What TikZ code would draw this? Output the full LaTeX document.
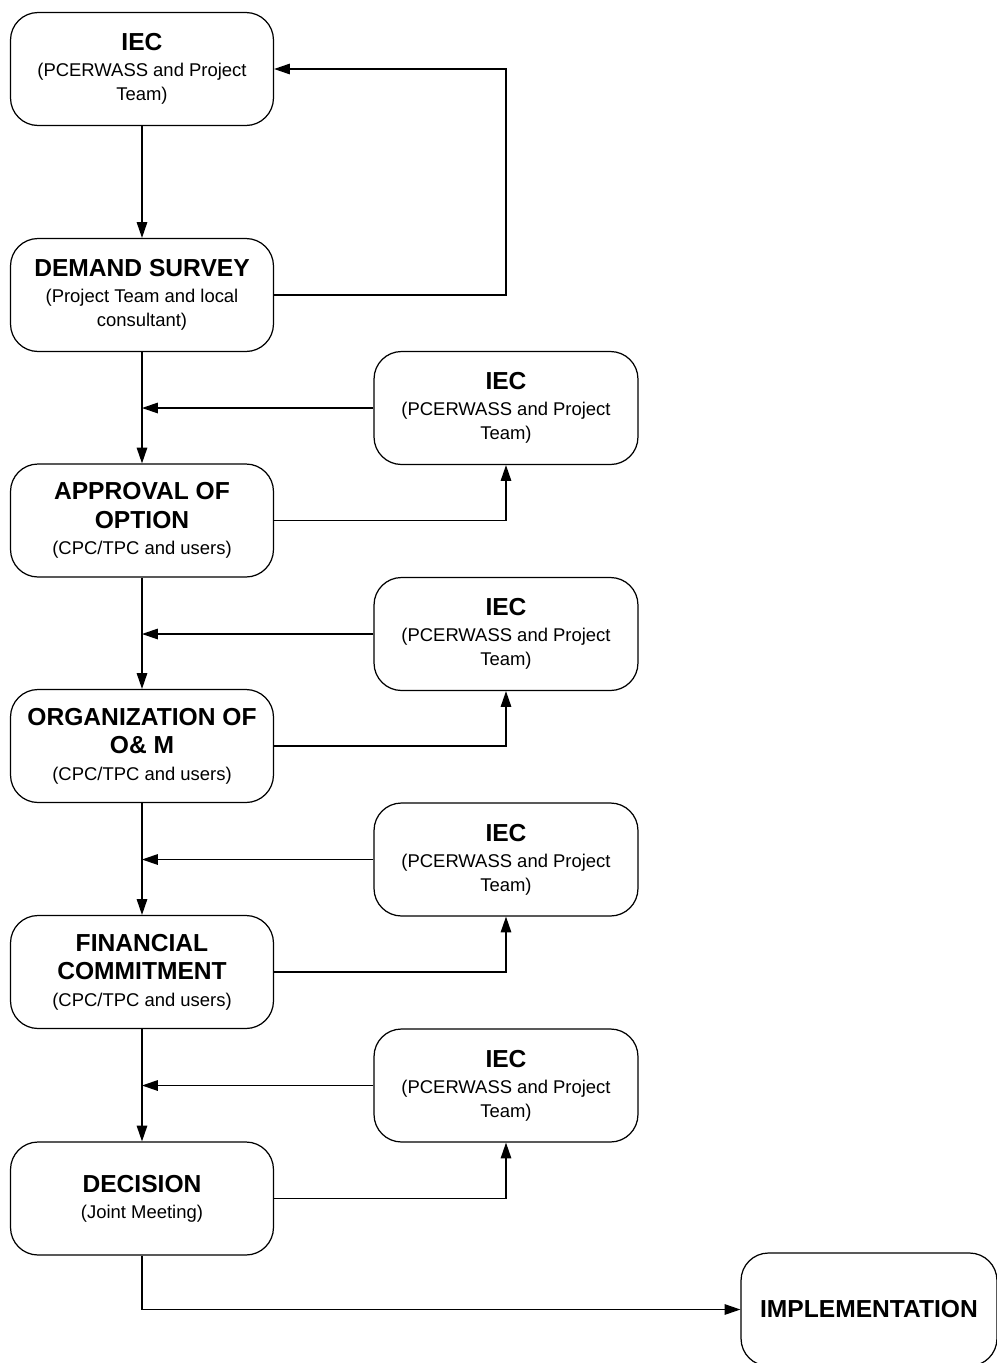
\documentclass[tikz,border=0pt]{standalone}
\usepackage{fontspec}
\setmainfont{Liberation Sans}
\usepackage{tikz}
\usetikzlibrary{arrows.meta,positioning,calc}

\newcommand{\stagetitle}[1]{{\fontsize{14}{16}\selectfont\bfseries #1}}

\begin{document}
\begin{tikzpicture}[
    x=0.02cm, y=-0.02cm,
    stage/.style={draw, line width=0.7pt, rounded corners=0.55cm, minimum width=5.26cm, minimum height=2.26cm, align=center, inner sep=2pt, font=\fontsize{10.5}{13.6}\selectfont},
    iec/.style={stage, minimum width=5.28cm},
    arrow/.style={-{Triangle[length=9pt, width=6pt]}, line width=0.7pt}
]
\useasboundingbox (0,0) rectangle (997,1363);

\node[stage] (iec0) at (142,69) {\stagetitle{IEC}\\[1.2pt](PCERWASS and Project\\Team)};
\node[stage] (survey) at (142,295) {\stagetitle{DEMAND SURVEY}\\[1.2pt](Project Team and local\\consultant)};
\node[stage] (approval) at (142,520.5) {\stagetitle{APPROVAL OF}\\[2.5pt]\stagetitle{OPTION}\\[1.5pt](CPC/TPC and users)};
\node[stage] (organization) at (142,746) {\stagetitle{ORGANIZATION OF}\\[2.5pt]\stagetitle{O\& M}\\[1.5pt](CPC/TPC and users)};
\node[stage] (financial) at (142,972) {\stagetitle{FINANCIAL}\\[2.5pt]\stagetitle{COMMITMENT}\\[1.5pt](CPC/TPC and users)};
\node[stage] (decision) at (142,1198.5) {\stagetitle{DECISION}\\[1.2pt](Joint Meeting)};
\node[stage, minimum width=5.12cm] (impl) at (869,1309.5) {\stagetitle{IMPLEMENTATION}};

\node[iec] (iec1) at (506,408) {\stagetitle{IEC}\\[1.2pt](PCERWASS and Project\\Team)};
\node[iec] (iec2) at (506,634) {\stagetitle{IEC}\\[1.2pt](PCERWASS and Project\\Team)};
\node[iec] (iec3) at (506,859.5) {\stagetitle{IEC}\\[1.2pt](PCERWASS and Project\\Team)};
\node[iec] (iec4) at (506,1085.5) {\stagetitle{IEC}\\[1.2pt](PCERWASS and Project\\Team)};

\coordinate (loop) at (506,295);

% main line
\draw[arrow] (iec0) -- (survey);
\draw[arrow] (survey) -- (approval);
\draw[arrow] (approval) -- (organization);
\draw[arrow] (organization) -- (financial);
\draw[arrow] (financial) -- (decision);
\draw[arrow] (decision.south) |- (impl.west);

% feedback to first IEC
\draw[arrow] (survey.east) -- (loop) |- (iec0.east);

% IEC side boxes
\draw[arrow] (iec1.west) -- (iec1.west -| survey.south);
\draw[arrow] (iec2.west) -- (iec2.west -| approval.south);
\draw[arrow] (iec3.west) -- (iec3.west -| organization.south);
\draw[arrow] (iec4.west) -- (iec4.west -| financial.south);

\draw[arrow] (approval.east) -| (iec1.south);
\draw[arrow] (organization.east) -| (iec2.south);
\draw[arrow] (financial.east) -| (iec3.south);
\draw[arrow] (decision.east) -| (iec4.south);
\end{tikzpicture}
\end{document}
